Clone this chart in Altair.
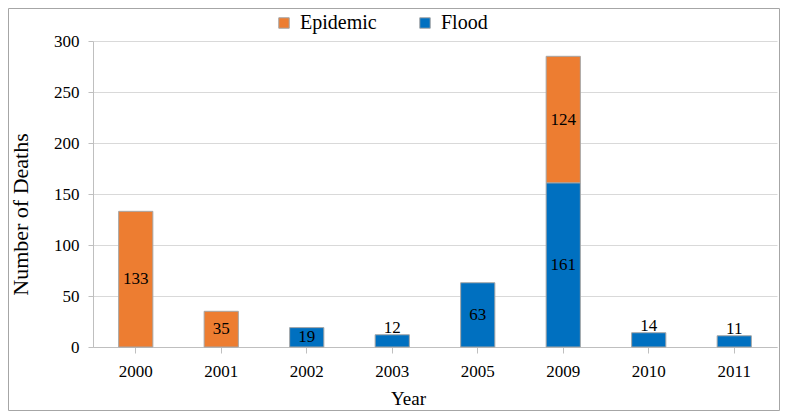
import altair as alt
import pandas as pd

years = ["2000", "2001", "2002", "2003", "2005", "2009", "2010", "2011"]
epidemic = [133, 35, 0, 0, 0, 124, 0, 0]
flood = [0, 0, 19, 12, 63, 161, 14, 11]

rows = []
for yr, e, f in zip(years, epidemic, flood):
    base = 0
    for name, v, order in (("Flood", f, 2), ("Epidemic", e, 1)):
        if v > 0:
            lab = base + v / 2 if v >= 15 else base + v + 6.5
            rows.append({"Year": yr, "Type": name, "Deaths": v, "start": base,
                         "end": base + v, "lab": lab, "ord": order})
            base += v
df = pd.DataFrame(rows)

FONT = "Liberation Serif"
W, H = 684, 306

x = alt.X("Year:N", sort=years, title="Year",
          scale=alt.Scale(paddingInner=0.6, paddingOuter=0.3),
          axis=alt.Axis(labelAngle=0, labelFontSize=17, labelFont=FONT, labelColor="black",
                        titleFontSize=19, titleFont=FONT, titleFontWeight="normal",
                        titleColor="black", titleX=315, titleY=51, titleBaseline="middle",
                        domainColor="#bfbfbf", tickColor="#bfbfbf", tickSize=6,
                        labelPadding=10))

bars = alt.Chart(df).mark_bar(stroke="#a6a6a6", strokeWidth=1).encode(
    x=x,
    y=alt.Y("start:Q", title="Number of Deaths",
            scale=alt.Scale(domain=[0, 300]),
            axis=alt.Axis(values=[0, 50, 100, 150, 200, 250, 300], labelFontSize=17,
                          labelFont=FONT, labelColor="black", titleFontSize=22,
                          titleFont=FONT, titleFontWeight="normal", titleColor="black",
                          titleX=-73, titleY=173, titleBaseline="middle", titleAngle=270,
                          titleAlign="center",
                          domainColor="#bfbfbf", tickColor="#bfbfbf",
                          tickSize=5, labelPadding=9, gridColor="#d9d9d9")),
    y2="end:Q",
    color=alt.Color("Type:N", sort=["Epidemic", "Flood"],
                    scale=alt.Scale(domain=["Epidemic", "Flood"], range=["#ED7D31", "#0070C0"]),
                    legend=alt.Legend(title=None, orient="none", direction="horizontal",
                                      legendX=181, legendY=-28, labelFont=FONT,
                                      labelFontSize=20, labelColor="black",
                                      symbolType="square", symbolSize=110,
                                      symbolStrokeColor="#a6a6a6", symbolStrokeWidth=1,
                                      columnPadding=38, labelOffset=6)),
)

labels = alt.Chart(df).mark_text(font=FONT, fontSize=17, color="black",
                                 baseline="middle").encode(
    x=alt.X("Year:N", sort=years),
    y=alt.Y("lab:Q"),
    text="Deaths:Q",
)

border = alt.Chart(pd.DataFrame({"a": [0]})).mark_rect(
    fill=None, stroke="#a6a6a6", strokeWidth=1).encode(
    x=alt.value(-84.5), x2=alt.value(W + 2.5), y=alt.value(-32.5), y2=alt.value(H + 63.5))

chart = alt.layer(border, bars, labels).properties(
    width=W, height=H, autosize=alt.AutoSizeParams(type="none"),
    padding={"left": 85, "top": 33, "right": 3, "bottom": 64},
).configure(font=FONT).configure_view(stroke=None)

chart.save("out.html", embed_options={"renderer": "svg", "actions": False})
